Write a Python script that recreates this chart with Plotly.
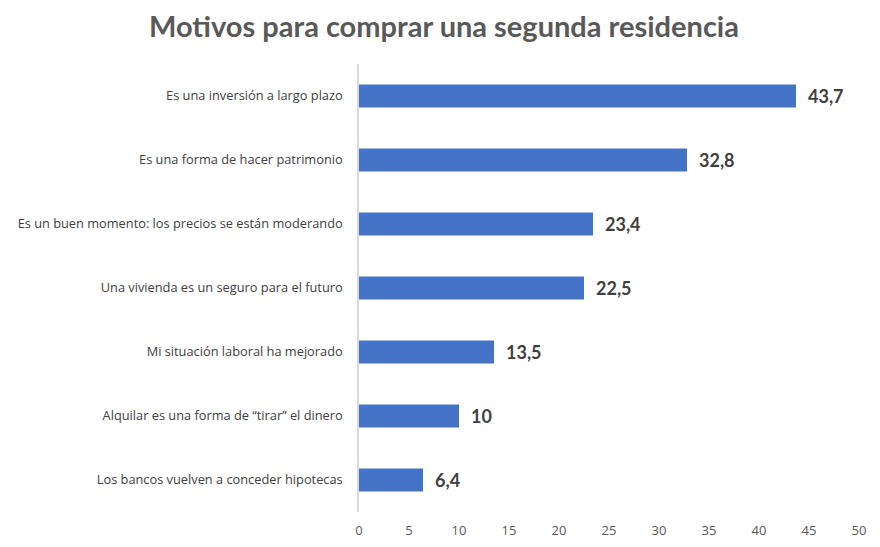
import plotly.graph_objects as go

categories = [
    "Es una inversión a largo plazo",
    "Es una forma de hacer patrimonio",
    "Es un buen momento: los precios se están moderando",
    "Una vivienda es un seguro para el futuro",
    "Mi situación laboral ha mejorado",
    "Alquilar es una forma de “tirar” el dinero",
    "Los bancos vuelven a conceder hipotecas",
]
values = [43.7, 32.8, 23.4, 22.5, 13.5, 10, 6.4]
value_labels = ["43,7", "32,8", "23,4", "22,5", "13,5", "10", "6,4"]
tick_vals = [0, 5, 10, 15, 20, 25, 30, 35, 40, 45, 50]

fig = go.Figure(go.Bar(
    x=values,
    y=categories,
    orientation="h",
    marker=dict(color="#4472C4", line=dict(width=0)),
    hoverinfo="x+y",
))

for v, lab, cat in zip(values, value_labels, categories):
    fig.add_annotation(
        x=v, y=cat, text=f"<b>{lab}</b>", showarrow=False,
        xanchor="left", yanchor="middle", xshift=10,
        font=dict(family="Lato", size=18, color="#404040"),
    )

fig.update_layout(
    width=872, height=539,
    margin=dict(l=351, r=21, t=56, b=35, autoexpand=False),
    paper_bgcolor="white", plot_bgcolor="white",
    title=dict(
        text="<b>Motivos para comprar una segunda residencia</b>",
        x=0.5, xanchor="center", y=0.965, yanchor="middle",
        font=dict(family="Lato", size=29, color="#595959"),
    ),
    bargap=0.64,
    showlegend=False,
)
fig.update_xaxes(
    range=[0, 50], tickvals=tick_vals, showgrid=False, zeroline=False,
    showline=False, ticks="", ticklabelstandoff=9,
    tickfont=dict(family="Open Sans", size=13, color="#595959"),
    fixedrange=True,
)
fig.update_yaxes(
    autorange="reversed", showgrid=False, zeroline=False,
    showline=True, linecolor="#D9D9D9", linewidth=1.5,
    ticks="", ticklabelstandoff=12,
    tickfont=dict(family="Open Sans", size=12.8, color="#404040"),
)

fig.write_html("out.html")
